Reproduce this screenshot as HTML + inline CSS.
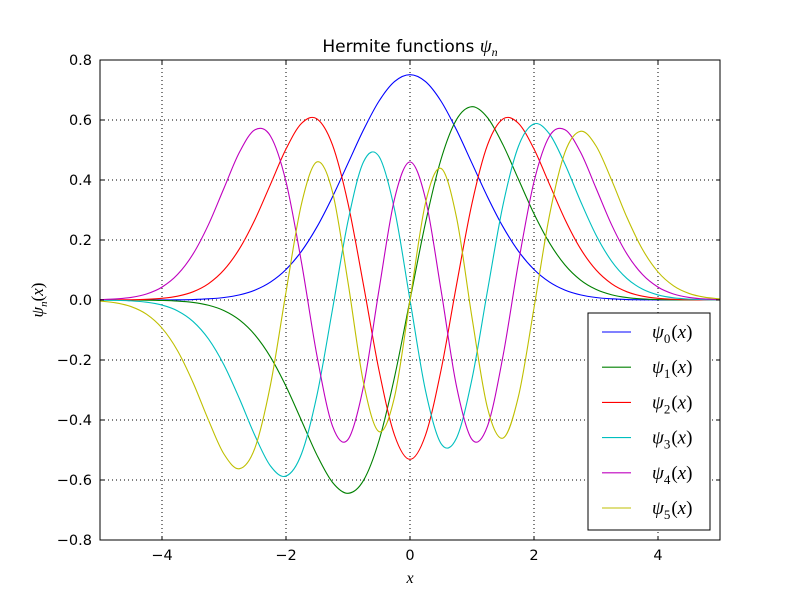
<!DOCTYPE html>
<html><head><meta charset="utf-8">
<style>
body{margin:0;background:#fff;}
svg{display:block;}
.tick{font-family:"DejaVu Sans","Liberation Sans",sans-serif;font-size:14.5px;fill:#000;}
.math{font-family:"Liberation Serif","DejaVu Serif",serif;font-style:italic;fill:#000;}
.up{font-style:normal;}
</style></head>
<body>
<svg id="chart" width="800" height="600" xmlns="http://www.w3.org/2000/svg">
<rect x="0" y="0" width="800" height="600" fill="#fff"/>
<g id="grid"></g>
<g id="series"></g>
<rect x="100" y="60" width="620" height="480" fill="none" stroke="#000" stroke-width="1"/>
<g id="ticks"></g>
<text x="410" y="52" text-anchor="middle" font-family="DejaVu Sans, Liberation Sans, sans-serif" font-size="17">Hermite functions <tspan class="math" font-size="19">ψ</tspan><tspan class="math" font-size="12" dy="4">n</tspan></text>
<text x="410" y="583" text-anchor="middle" class="math" font-size="16">x</text>
<text transform="translate(43,300) rotate(-90)" text-anchor="middle" class="math" font-size="17">ψ<tspan font-size="11" dy="4">n</tspan><tspan dy="-4" class="up">(</tspan>x<tspan class="up">)</tspan></text>
<g id="legend">
<rect x="588" y="313" width="122" height="217" fill="#fff" stroke="#000" stroke-width="1"/>
</g>
</svg>
<script>
const xStart = -5, xStep = 0.25;
const psi0 = [0,0,0,0.0001,0.0003,0.0007,0.0016,0.0038,0.0083,0.0171,0.0330,0.0598,0.1017,0.1625,0.2439,0.3439,0.4556,0.5670,0.6629,0.7280,0.7511,0.7280,0.6629,0.5670,0.4556,0.3439,0.2439,0.1625,0.1017,0.0598,0.0330,0.0171,0.0083,0.0038,0.0016,0.0007,0.0003,0.0001,0,0,0];
const psi1 = [0,-0.0001,-0.0002,-0.0005,-0.0014,-0.0035,-0.0081,-0.0176,-0.0354,-0.0666,-0.1167,-0.1902,-0.2875,-0.4020,-0.5173,-0.6079,-0.6443,-0.6014,-0.4687,-0.2574,0,0.2574,0.4687,0.6014,0.6443,0.6079,0.5173,0.4020,0.2875,0.1902,0.1167,0.0666,0.0354,0.0176,0.0081,0.0035,0.0014,0.0005,0.0002,0.0001,0];
const psi2 = [0.0001,0.0003,0.0008,0.0022,0.0055,0.0127,0.0273,0.0544,0.1003,0.1710,0.2684,0.3857,0.5032,0.5887,0.6035,0.5167,0.3221,0.0501,-0.2344,-0.4504,-0.5311,-0.4504,-0.2344,0.0501,0.3221,0.5167,0.6035,0.5887,0.5032,0.3857,0.2684,0.1710,0.1003,0.0544,0.0273,0.0127,0.0055,0.0022,0.0008,0.0003,0.0001];
const psi3 = [-0.0004,-0.0011,-0.0029,-0.0073,-0.0169,-0.0361,-0.0714,-0.1299,-0.2168,-0.3296,-0.4525,-0.5533,-0.5869,-0.5129,-0.3168,-0.0310,0.2630,0.4603,0.4784,0.3021,0,-0.3021,-0.4784,-0.4603,-0.2630,0.0310,0.3168,0.5129,0.5869,0.5533,0.4525,0.3296,0.2168,0.1299,0.0714,0.0361,0.0169,0.0073,0.0029,0.0011,0.0004];
const psi4 = [0.0013,0.0034,0.0086,0.0201,0.0430,0.0848,0.1530,0.2515,0.3730,0.4928,0.5675,0.5463,0.3943,0.1249,-0.1867,-0.4201,-0.4650,-0.2875,0.0338,0.3367,0.4600,0.3367,0.0338,-0.2875,-0.4650,-0.4201,-0.1867,0.1249,0.3943,0.5463,0.5675,0.4928,0.3730,0.2515,0.1530,0.0848,0.0430,0.0201,0.0086,0.0034,0.0013];
const psi5 = [-0.0036,-0.0093,-0.0219,-0.0474,-0.0936,-0.1687,-0.2749,-0.4007,-0.5138,-0.5623,-0.4926,-0.2825,0.0262,0.3206,0.4604,0.3599,0.0588,-0.2754,-0.4386,-0.3235,0,0.3235,0.4386,0.2754,-0.0588,-0.3599,-0.4604,-0.3206,-0.0262,0.2825,0.4926,0.5623,0.5138,0.4007,0.2749,0.1687,0.0936,0.0474,0.0219,0.0093,0.0036];
const xTicks = [-4,-2,0,2,4];
const xTickLabels = ["\u22124","\u22122","0","2","4"];
const yTicks = [-0.8,-0.6,-0.4,-0.2,0,0.2,0.4,0.6,0.8];
const yTickLabels = ["\u22120.8","\u22120.6","\u22120.4","\u22120.2","0.0","0.2","0.4","0.6","0.8"];
const seriesLabels = ["0","1","2","3","4","5"];

const NS="http://www.w3.org/2000/svg";
const X0=100,X1=720,Y0=540,Y1=60;
function sx(v){return X0+(v+5)/10*(X1-X0);}
function sy(v){return Y0-(v+0.8)/1.6*(Y0-Y1);}
function mk(tag,attrs,parent){const e=document.createElementNS(NS,tag);for(const k in attrs)e.setAttribute(k,attrs[k]);parent.appendChild(e);return e;}
const grid=document.getElementById('grid'),ticks=document.getElementById('ticks'),ser=document.getElementById('series'),leg=document.getElementById('legend');

xTicks.forEach((t,i)=>{
  const x=sx(t);
  const g=mk('line',{x1:x,x2:x,y1:Y1,y2:Y0,stroke:'#000','stroke-dasharray':'1,3','stroke-width':1},grid);
  
  
  const a=mk('line',{x1:x,x2:x,y1:Y0,y2:Y0-4,stroke:'#000'},ticks);
  
  
  const b=mk('line',{x1:x,x2:x,y1:Y1,y2:Y1+4,stroke:'#000'},ticks);
  
  
  const l=mk('text',{x:x,y:Y0+20,'text-anchor':'middle',class:'tick'},ticks);
  l.textContent=xTickLabels[i];
  
  
});
yTicks.forEach((t,i)=>{
  const y=sy(t);
  const g=mk('line',{x1:X0,x2:X1,y1:y,y2:y,stroke:'#000','stroke-dasharray':'1,3','stroke-width':1},grid);
  
  
  const a=mk('line',{x1:X0,x2:X0+4,y1:y,y2:y,stroke:'#000'},ticks);
  
  
  const b=mk('line',{x1:X1,x2:X1-4,y1:y,y2:y,stroke:'#000'},ticks);
  
  
  const l=mk('text',{x:X0-8,y:y+5,'text-anchor':'end',class:'tick'},ticks);
  l.textContent=yTickLabels[i];
  
  
});

function pathFor(vals){
  const pts=vals.map((v,i)=>[sx(xStart+i*xStep),sy(v)]);
  let d='M'+pts[0][0].toFixed(2)+','+pts[0][1].toFixed(2);
  for(let i=0;i<pts.length-1;i++){
    const p0=pts[Math.max(i-1,0)],p1=pts[i],p2=pts[i+1],p3=pts[Math.min(i+2,pts.length-1)];
    const c1=[p1[0]+(p2[0]-p0[0])/6,p1[1]+(p2[1]-p0[1])/6];
    const c2=[p2[0]-(p3[0]-p1[0])/6,p2[1]-(p3[1]-p1[1])/6];
    d+=' C'+c1.map(n=>n.toFixed(2))+' '+c2.map(n=>n.toFixed(2))+' '+p2.map(n=>n.toFixed(2));
  }
  return d;
}
const allSeries=[psi0,psi1,psi2,psi3,psi4,psi5];
const colors=['#0000ff','#008000','#ff0000','#00bfbf','#bf00bf','#bfbf00'];
allSeries.forEach((s,i)=>{
  const p=mk('path',{d:pathFor(s),fill:'none',stroke:colors[i],'stroke-width':1.1},ser);
  
  
});
seriesLabels.forEach((lab,i)=>{
  const y=332+i*35.2;
  const ln=mk('line',{x1:602,x2:631,y1:y,y2:y,stroke:colors[i],'stroke-width':1.1},leg);
  
  
  const t=mk('text',{x:652,y:y+6,class:'math','font-size':19},leg);
  
  
  t.innerHTML='ψ<tspan class="up" font-size="13" dy="5">'+lab+'</tspan><tspan class="up" dy="-5" dx="1">(</tspan>x<tspan class="up">)</tspan>';
});
</script>
</body></html>
